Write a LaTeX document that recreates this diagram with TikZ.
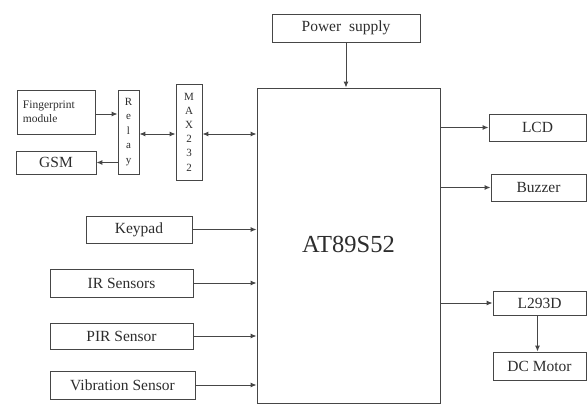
\documentclass[tikz,border=0pt]{standalone}
\usepackage{fontspec}
\setmainfont{Liberation Serif}
\usepackage{tikz}
\usetikzlibrary{arrows.meta,calc,positioning}
\definecolor{bdink}{RGB}{45,45,45}
\definecolor{bdline}{RGB}{70,70,70}
\tikzset{
  blk/.style={draw=bdline,line width=.9pt,inner sep=0pt,text=bdink,
    font=\fontsize{15.5}{17}\selectfont},
  link/.style={bdline,line width=1pt,-{Latex[length=6pt,width=5pt]}},
  duplex/.style={bdline,line width=1pt,{Latex[length=6pt,width=5pt]}-{Latex[length=6pt,width=5pt]}}
}

\begin{document}
\begin{tikzpicture}[x=1pt,y=-1pt]
  \useasboundingbox (0,0) rectangle (587,405);
  \node[blk,minimum width=148,minimum height=28] (power) at (346,28) {Power\ \ supply};
  \node[blk,minimum width=183,minimum height=315,font=\fontsize{24.5}{27}\selectfont]
    (mcu) at (348.5,245.5) {\raisebox{2pt}{AT89S52}};
  \node[blk,minimum width=78,minimum height=44,align=left,text width=66,
    font=\fontsize{11.5}{14}\selectfont] (finger) at (56,112) {Fingerprint\\module};
  \node[blk,minimum width=80,minimum height=23] (gsm) at (56,162.5) {GSM};
  \node[blk,minimum width=21,minimum height=84,align=center,
    font=\fontsize{11}{14.5}\selectfont] (relay) at (128.5,132) {R\\e\\l\\a\\y};
  \node[blk,minimum width=26,minimum height=96,align=center,
    font=\fontsize{11}{14.2}\selectfont] (max) at (189,132) {M\\A\\X\\2\\3\\2};
  \node[blk,minimum width=106,minimum height=27] (keypad) at (139,229.5) {Keypad};
  \node[blk,minimum width=143,minimum height=28] (ir) at (121.5,283) {IR Sensors};
  \node[blk,minimum width=143,minimum height=26] (pir) at (121.5,336) {PIR Sensor};
  \node[blk,minimum width=145,minimum height=28] (vib) at (122.5,385) {Vibration Sensor};
  \node[blk,minimum width=97,minimum height=27] (lcd) at (537.5,127.5) {LCD};
  \node[blk,minimum width=95,minimum height=27] (buzzer) at (538.5,187.5) {Buzzer};
  \node[blk,minimum width=93,minimum height=24] (driver) at (539.5,303) {L293D};
  \node[blk,minimum width=93,minimum height=28] (motor) at (539.5,366) {DC Motor};
  \coordinate (fpout) at ($(finger.east)+(0,2)$);
  \coordinate (rlout) at ($(relay.east)+(0,2)$);
  \coordinate (mxout) at ($(max.east)+(0,2)$);
  \coordinate (drout) at ($(driver.south)+(-2,0)$);
  \draw[link] (power.south) -- (power.south |- mcu.north);
  \draw[link] (fpout) -- (fpout -| relay.west);
  \draw[link] (relay.west |- gsm.east) -- (gsm.east);
  \draw[duplex] (rlout) -- (rlout -| max.west);
  \draw[duplex] (mxout) -- (mxout -| mcu.west);
  \foreach \src in {keypad,ir,pir,vib}
    \draw[link] (\src.east) -- (\src.east -| mcu.west);
  \foreach \dst in {lcd,buzzer,driver}
    \draw[link] (mcu.east |- \dst.west) -- (\dst.west);
  \draw[link] (drout) -- (drout |- motor.north);
\end{tikzpicture}
\end{document}
